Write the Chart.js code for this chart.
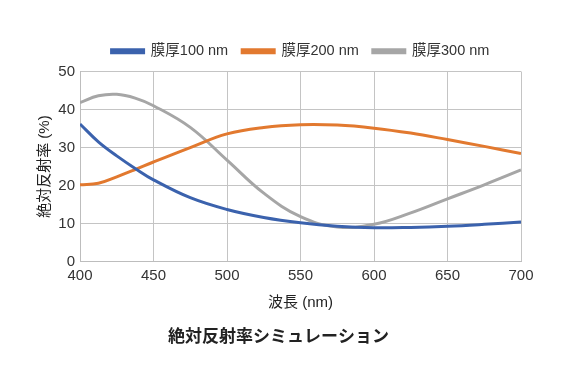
<!DOCTYPE html>
<html><head><meta charset="utf-8">
<script src="https://cdn.jsdelivr.net/npm/chart.js@4/dist/chart.umd.min.js"></script>
<style>html,body{margin:0;padding:0;background:#fff}#wrap{width:567px;height:368px}</style>
</head><body><div id="wrap"><canvas id="c" width="567" height="368"></canvas></div>
<script>
const wavelengths = [400, 412.5, 425, 437.5, 450, 475, 500, 525, 550, 575, 600, 625, 650, 675, 700];
const film100 = [36.2, 31.5, 27.8, 24.5, 21.5, 16.8, 13.7, 11.6, 10.2, 9.3, 8.9, 9.0, 9.3, 9.8, 10.4];
const film200 = [20.2, 20.6, 22.3, 24.2, 26.2, 30.0, 33.6, 35.3, 36.0, 35.9, 35.1, 33.8, 32.1, 30.3, 28.4];
const film300 = [41.8, 43.6, 44.0, 43.0, 41.0, 35.3, 26.7, 18.0, 11.8, 9.1, 9.8, 12.8, 16.5, 20.2, 24.1];
const seriesNames = ['膜厚100 nm', '膜厚200 nm', '膜厚300 nm'];
const xTicks = [400, 450, 500, 550, 600, 650, 700];
const yTicks = [0, 10, 20, 30, 40, 50];

const FONT = '"Liberation Sans", "Noto Sans CJK JP", sans-serif';
const pts = arr => wavelengths.map((x, i) => ({x, y: arr[i]}));
const colors = ['#3b62ad', '#e2792f', '#a6a6a6'];
const data = {
  datasets: [film100, film200, film300].map((arr, i) => ({
    label: seriesNames[i], data: pts(arr), borderColor: colors[i], backgroundColor: colors[i],
    borderWidth: 3, pointRadius: 0, tension: 0.4, fill: false
  }))
};
const shiftLegend = {
  id: 'shiftLegend',
  afterLayout(chart) { const l = chart.legend; if (l) { l.left += 22; l.right += 22; l.top -= 3; l.bottom -= 3; } }
};
new Chart(document.getElementById('c'), {
  type: 'line',
  data,
  plugins: [shiftLegend],
  options: {
    responsive: false, animation: false,
    layout: {padding: {left: 36, right: 46, top: 33, bottom: 20}},
    plugins: {
      legend: {position: 'top', labels: {font: {family: FONT, size: 14.5}, color: '#333', boxWidth: 32, boxHeight: 3, padding: 14}},
      title: {display: true, position: 'bottom', text: '絶対反射率シミュレーション', font: {family: FONT, size: 17, weight: 'bold'}, color: '#222', padding: {top: 16, bottom: 0}},
      tooltip: {enabled: false}
    },
    scales: {
      x: {
        type: 'linear', min: 400, max: 700,
        afterBuildTicks: s => { s.ticks = xTicks.map(v => ({value: v})); },
        ticks: {font: {family: FONT, size: 15}, color: '#333', padding: 5, maxRotation: 0},
        grid: {color: '#c4c4c4', drawTicks: false, lineWidth: 1},
        border: {color: '#bdbdbd'},
        title: {display: true, text: '波長 (nm)', font: {family: FONT, size: 15}, color: '#222', padding: {top: 4, bottom: 0}}
      },
      y: {
        min: 0, max: 50,
        afterBuildTicks: s => { s.ticks = yTicks.map(v => ({value: v})); },
        afterFit: s => { s.width = 44; },
        ticks: {font: {family: FONT, size: 15}, color: '#333', padding: 5},
        grid: {color: '#c4c4c4', drawTicks: false, lineWidth: 1},
        border: {color: '#bdbdbd'},
        title: {display: true, text: '絶対反射率 (%)', font: {family: FONT, size: 15}, color: '#222', padding: 0}
      }
    }
  }
});
</script></body></html>
